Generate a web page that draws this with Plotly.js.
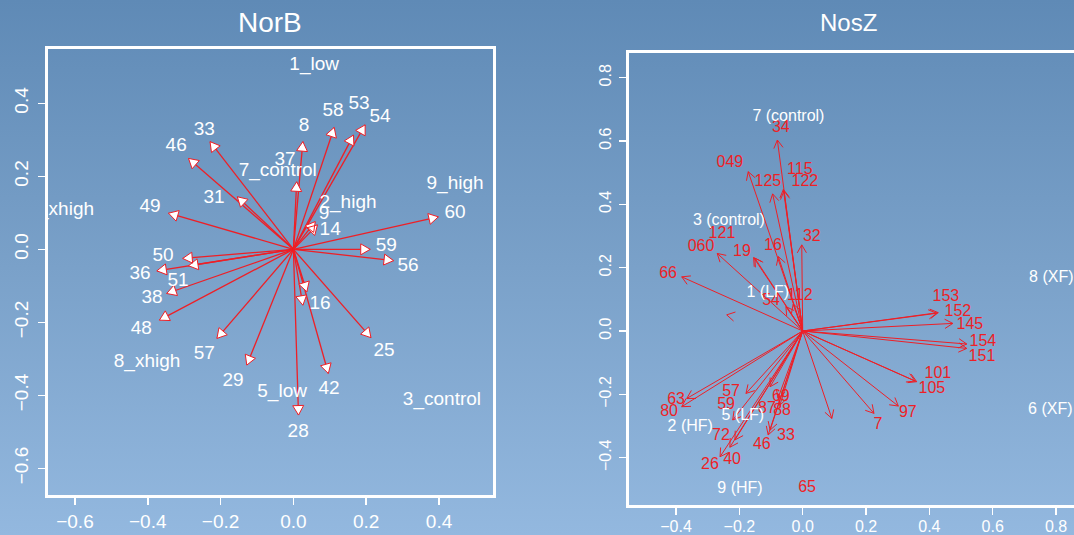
<!DOCTYPE html>
<html><head><meta charset="utf-8">
<script src="https://cdn.plot.ly/plotly-3.0.1.min.js"></script>
<style>
html,body{margin:0;padding:0;}
body{width:1074px;height:535px;background:linear-gradient(to bottom,#5f8ab6 0%,#7aa1c9 50%,#93b8df 100%);overflow:hidden;}
#chart{width:1074px;height:535px;}
</style></head><body><div id="chart"></div>
<script>
// ---------------- NorB (left panel) ----------------
const norbNames  = ["33","46","31","49","50","51","36","38","48","57","29","28","16","","42","25","59","56","60","14","9","37","8","58","53","54"];
const norbX      = [-0.229,-0.288,-0.154,-0.343,-0.304,-0.288,-0.375,-0.348,-0.368,-0.210,-0.128,0.014,0.037,0.026,0.096,0.213,0.211,0.275,0.398,0.066,0.060,0.009,0.026,0.112,0.165,0.197];
const norbY      = [0.295,0.249,0.144,0.099,-0.025,-0.045,-0.059,-0.121,-0.194,-0.244,-0.317,-0.454,-0.116,-0.153,-0.340,-0.242,0.000,-0.031,0.089,0.067,0.076,0.185,0.295,0.334,0.313,0.341];
const norbLabelX = [-0.245,-0.322,-0.218,-0.394,-0.358,-0.317,-0.421,-0.388,-0.418,-0.245,-0.166,0.013,0.073,0.026,0.098,0.249,0.255,0.315,0.444,0.101,0.084,-0.023,0.029,0.109,0.180,0.238];
const norbLabelY = [0.327,0.283,0.141,0.116,-0.018,-0.087,-0.068,-0.133,-0.218,-0.287,-0.361,-0.501,-0.150,-0.153,-0.383,-0.279,0.009,-0.046,0.099,0.053,0.097,0.245,0.338,0.379,0.398,0.362];
const norbSites  = ["1_low","7_control","2_high","9_high","6_xhigh","8_xhigh","5_low","3_control"];
const norbSiteX  = [0.057,-0.043,0.150,0.444,-0.639,-0.402,-0.031,0.408];
const norbSiteY  = [0.505,0.213,0.126,0.178,0.108,-0.309,-0.391,-0.413];

// ---------------- NosZ (right panel) ----------------
const noszNames  = ["34","049","125","115","122","32","16","121","19","060","66","54","112","57","63","80","59","72","40","26","46","33","87","69","88","65","7","97","101","105","153","152","145","154","151"];
const noszX      = [-0.080,-0.172,-0.095,-0.061,-0.059,-0.003,-0.077,-0.155,-0.151,-0.270,-0.382,-0.053,-0.030,-0.179,-0.366,-0.382,-0.221,-0.214,-0.230,-0.261,-0.109,-0.103,-0.103,-0.072,-0.078,0.092,0.225,0.302,0.360,0.355,0.428,0.423,0.474,0.518,0.518];
const noszY      = [0.603,0.503,0.433,0.447,0.442,0.272,0.235,0.232,0.230,0.245,0.171,0.077,0.085,-0.197,-0.213,-0.239,-0.281,-0.344,-0.367,-0.397,-0.328,-0.313,-0.176,-0.234,-0.212,-0.276,-0.260,-0.237,-0.160,-0.158,0.058,0.056,0.024,-0.041,-0.055];
const noszLabelX = [-0.069,-0.230,-0.110,-0.009,0.007,0.029,-0.094,-0.255,-0.192,-0.321,-0.425,-0.100,-0.009,-0.226,-0.400,-0.422,-0.242,-0.258,-0.223,-0.293,-0.129,-0.053,-0.113,-0.069,-0.065,0.014,0.238,0.332,0.427,0.408,0.452,0.490,0.528,0.569,0.566];
const noszLabelY = [0.641,0.530,0.470,0.508,0.470,0.297,0.268,0.306,0.249,0.265,0.180,0.095,0.110,-0.193,-0.218,-0.256,-0.234,-0.332,-0.407,-0.423,-0.360,-0.332,-0.246,-0.208,-0.253,-0.496,-0.297,-0.259,-0.136,-0.183,0.107,0.060,0.019,-0.035,-0.082];
const noszStrayHeadX = [-0.240];
const noszStrayHeadY = [0.051];
const noszSites  = ["7 (control)","3 (control)","1 (LF)","2 (HF)","5 (LF)","9 (HF)","8 (XF)","6 (XF)"];
const noszSiteX  = [-0.045,-0.233,-0.110,-0.355,-0.189,-0.198,0.785,0.782];
const noszSiteY  = [0.676,0.347,0.120,-0.303,-0.268,-0.499,0.167,-0.249];

// ---------------- geometry ----------------
const W = 1074, H = 535;
const L = {xr:[-0.674,0.549], yr:[-0.673,0.548], px:[48,493.3], py:[49.3,495]};
const R = {xr:[-0.5485,0.8567], yr:[-0.5494,0.8769], px:[629,1074], py:[53.3,505]};
function scale(p){ return {sx:(p.px[1]-p.px[0])/(p.xr[1]-p.xr[0]), sy:(p.py[1]-p.py[0])/(p.yr[1]-p.yr[0])}; }
const RED = '#ee1f26';
const FONT = 'Liberation Sans, Arial, Helvetica, sans-serif';

function shafts(xs, ys){
  const X=[],Y=[];
  xs.forEach((x,i)=>{X.push(0,x,null);Y.push(0,ys[i],null);});
  return {X,Y};
}
function heads(xs, ys, lenPx, p, closed){
  const s = scale(p), X=[], Y=[];
  const ang = Math.PI/6;
  xs.forEach((x,i)=>{
    const y = ys[i];
    const dx = x*s.sx, dy = y*s.sy, n = Math.hypot(dx,dy);
    const ux = dx/n, uy = dy/n;
    const bx = dx - lenPx*ux, by = dy - lenPx*uy;
    const h = lenPx*Math.tan(ang);
    const lx = bx - h*uy, ly = by + h*ux;
    const rx = bx + h*uy, ry = by - h*ux;
    X.push(lx/s.sx, x, rx/s.sx); Y.push(ly/s.sy, y, ry/s.sy);
    if(closed){X.push(lx/s.sx);Y.push(ly/s.sy);}
    X.push(null);Y.push(null);
  });
  return {X,Y};
}

const traces = [];
// NorB
const ls = shafts(norbX, norbY);
traces.push({x:ls.X,y:ls.Y,mode:'lines',line:{color:RED,width:1.3},xaxis:'x',yaxis:'y',hoverinfo:'skip'});
const lh = heads(norbX, norbY, 9.5, L, true);
traces.push({x:lh.X,y:lh.Y,mode:'lines',fill:'toself',fillcolor:'#ffffff',line:{color:RED,width:1},xaxis:'x',yaxis:'y',hoverinfo:'skip'});
traces.push({x:norbLabelX,y:norbLabelY,text:norbNames,mode:'text',textfont:{color:'#ffffff',size:19,family:FONT},xaxis:'x',yaxis:'y',cliponaxis:true,hoverinfo:'skip'});
traces.push({x:norbSiteX,y:norbSiteY,text:norbSites,mode:'text',textfont:{color:'#ffffff',size:19,family:FONT},xaxis:'x',yaxis:'y',cliponaxis:true,hoverinfo:'skip'});
// NosZ
const rs = shafts(noszX, noszY);
traces.push({x:rs.X,y:rs.Y,mode:'lines',line:{color:RED,width:1},xaxis:'x2',yaxis:'y2',hoverinfo:'skip'});
const rh = heads(noszX.concat(noszStrayHeadX), noszY.concat(noszStrayHeadY), 8, R, false);
traces.push({x:rh.X,y:rh.Y,mode:'lines',line:{color:RED,width:1},xaxis:'x2',yaxis:'y2',hoverinfo:'skip'});
traces.push({x:noszLabelX,y:noszLabelY,text:noszNames,mode:'text',textfont:{color:RED,size:16,family:FONT},xaxis:'x2',yaxis:'y2',cliponaxis:true,hoverinfo:'skip'});
traces.push({x:noszSiteX,y:noszSiteY,text:noszSites,mode:'text',textfont:{color:'#ffffff',size:16,family:FONT},xaxis:'x2',yaxis:'y2',cliponaxis:true,hoverinfo:'skip'});

function ax(p, isX, vals, fs, mirror, standoff){
  const dom = isX ? [p.px[0]/W, Math.min(1,p.px[1]/W)] : [(H-p.py[1])/H, (H-p.py[0])/H];
  return {domain:dom, range:isX?p.xr:p.yr, showgrid:false, zeroline:false,
    showline:true, linecolor:'#ffffff', linewidth:3, mirror:mirror,
    ticks:'outside', ticklen:7, tickwidth:1.5, tickcolor:'#ffffff',
    tickvals:vals, tickformat:'.1f', tickangle:isX?0:-90,
    tickfont:{color:'#ffffff',size:fs,family:FONT}, ticklabelstandoff:standoff, fixedrange:true};
}
const layout = {
  width:W, height:H, margin:{l:0,r:0,t:0,b:0},
  paper_bgcolor:'rgba(0,0,0,0)', plot_bgcolor:'rgba(0,0,0,0)', showlegend:false,
  xaxis: Object.assign(ax(L,true,[-0.6,-0.4,-0.2,0,0.2,0.4],19,true,0),{anchor:'y'}),
  yaxis: Object.assign(ax(L,false,[-0.6,-0.4,-0.2,0,0.2,0.4],19,true,2),{anchor:'x'}),
  xaxis2: Object.assign(ax(R,true,[-0.4,-0.2,0,0.2,0.4,0.6,0.8],16,true,-2),{anchor:'y2'}),
  yaxis2: Object.assign(ax(R,false,[-0.4,-0.2,0,0.2,0.4,0.6,0.8],16,false,2),{anchor:'x2'}),
  annotations:[
    {text:'NorB',x:270/W,y:(H-23)/H,xref:'paper',yref:'paper',showarrow:false,xanchor:'center',yanchor:'middle',font:{color:'#ffffff',size:28,family:FONT}},
    {text:'NosZ',x:848/W,y:(H-23)/H,xref:'paper',yref:'paper',showarrow:false,xanchor:'center',yanchor:'middle',font:{color:'#ffffff',size:24,family:FONT}}
  ]
};
Plotly.newPlot('chart', traces, layout, {staticPlot:true, displayModeBar:false});
</script>
</body></html>
